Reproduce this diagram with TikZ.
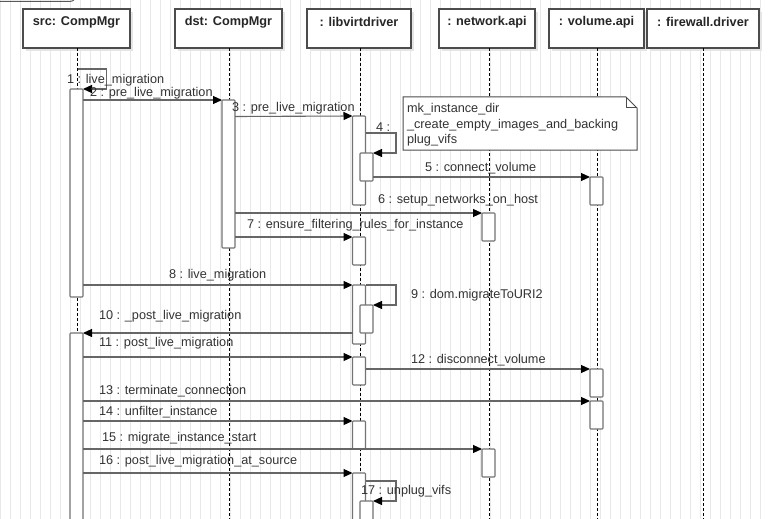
\documentclass[tikz,border=0pt]{standalone}
\usepackage{fontspec}
\setmainfont{Liberation Sans}
\usetikzlibrary{arrows.meta}
\begin{document}
\begin{tikzpicture}[x=1pt,y=-1pt,
  every node/.style={inner sep=0pt,outer sep=0pt},
  headbox/.style={draw=black!70,line width=1.1pt,fill=white,minimum height=39pt},
  headtxt/.style={font=\fontsize{12.7}{14}\selectfont\bfseries,text=black!85},
  lbl/.style={font=\fontsize{12.7}{14}\selectfont,text=black!80,anchor=west},
  lifeline/.style={draw=black,line width=0.8pt,dash pattern=on 3pt off 2pt},
  act/.style={draw=black!55,line width=1.1pt,fill=white,minimum width=13pt,rounded corners=0.8pt},
  msg/.style={draw=black!60,line width=1.1pt,-{Triangle[length=9pt,width=8pt,color=black]}},
  selfm/.style={draw=black!60,line width=1.1pt,-{Triangle[length=9pt,width=8pt,color=black]}},
]
\useasboundingbox (0,0) rectangle (769,519);
% grid
\draw[black!9,line width=0.4pt,step=10] (0,0) grid (769,519);
% partial frame top-left
\draw[black!65,line width=1pt] (0,1.5) -- (70,1.5) arc[start angle=90,end angle=30,radius=6];
% shadows
\foreach \cx/\w in {76.5/107,228.5/107,359/104,487/96,596.5/95,703/112}
  \fill[black!10] (\cx-\w/2+3,12) rectangle (\cx+\w/2+3,51);
% heads
\node[headbox,minimum width=107pt] (hsrc) at (76.5,28.5) {};
\node[headbox,minimum width=107pt] (hdst) at (228.5,28.5) {};
\node[headbox,minimum width=104pt] (hlib) at (359,28.5) {};
\node[headbox,minimum width=96pt] (hnet) at (487,28.5) {};
\node[headbox,minimum width=95pt] (hvol) at (596.5,28.5) {};
\node[headbox,minimum width=112pt] (hfw) at (703,28.5) {};
\node[headtxt] (tsrc) at (76.5,22) {src: CompMgr};
\node[headtxt] (tdst) at (228.5,22) {dst: CompMgr};
\node[headtxt] (tlib) at (359,22) {: libvirtdriver};
\node[headtxt] (tnet) at (487,22) {: network.api};
\node[headtxt] (tvol) at (596.5,22) {: volume.api};
\node[headtxt] (tfw) at (703,22) {: firewall.driver};
% lifelines
\coordinate (esrc) at (77.5,519);
\coordinate (edst) at (229,519);
\coordinate (elib) at (360.5,519);
\coordinate (enet) at (489,519);
\coordinate (evol) at (597,519);
\coordinate (efw) at (703.5,519);
\draw[lifeline] (hsrc.south -| esrc) -- (esrc);
\draw[lifeline] (hdst.south -| edst) -- (edst);
\draw[lifeline] (hlib.south -| elib) -- (elib);
\draw[lifeline] (hnet.south -| enet) -- (enet);
\draw[lifeline] (hvol.south -| evol) -- (evol);
\draw[lifeline] (hfw.south -| efw) -- (efw);
% activation bars
\node[act,minimum height=208pt] (A1) at (76.5,193) {};
\node[act,minimum height=200pt] (A2) at (76.5,433) {};
\node[act,minimum height=148pt] (D1) at (228.5,174) {};
\node[act,minimum height=89pt] (L1) at (359,160.5) {};
\node[act,minimum height=28pt] (L1n) at (366.5,167) {};
\node[act,minimum height=28pt] (N1) at (488.5,227) {};
\node[act,minimum height=28pt] (V1) at (596.5,191) {};
\node[act,minimum height=28pt] (L2) at (359,251) {};
\node[act,minimum height=59pt] (L3) at (359,314.5) {};
\node[act,minimum height=28pt] (L3n) at (366.5,319) {};
\node[act,minimum height=28pt] (L4) at (359,371) {};
\node[act,minimum height=28pt] (V2) at (596.5,383) {};
\node[act,minimum height=28pt] (V3) at (596.5,415) {};
\node[act,minimum height=28pt] (L5) at (359,435) {};
\node[act,minimum height=28pt] (N2) at (488.5,463) {};
\node[act,minimum height=70pt] (L6) at (359,508) {};
\node[act,minimum height=40pt] (L6n) at (366.5,521) {};
% note
\draw[black!70,line width=1pt,fill=white] (403,97) -- (626,97) -- (637,108) -- (637,150) -- (403,150) -- cycle;
\draw[black!70,line width=1pt] (626,97) -- (626,108) -- (637,108);
\node[lbl] (n1) at (407,109) {mk\_instance\_dir};
\node[lbl] (n2) at (407,125) {\_create\_empty\_images\_and\_backing};
\node[lbl] (n3) at (407,140.5) {plug\_vifs};
% messages
\draw[selfm] (77.5,69) -- (106.5,69) -- (106.5,89) -- (A1.north east);
\node[lbl] (m1) at (67,80) {1 : live\_migration};
\draw[msg] (A1.east |- 0,100) -- (D1.north west);
\node[lbl] (m2) at (90,93) {2 : pre\_live\_migration};
\draw[msg] (D1.east |- 0,116.5) -- (L1.north west);
\node[lbl] (m3) at (232,108) {3 : pre\_live\_migration};
\draw[selfm] (L1.east |- 0,133) -- (396,133) -- (396,153) -- (L1n.north east);
\node[lbl] (m4) at (376,127) {4 :};
\draw[msg] (L1n.east |- 0,177) -- (V1.north west);
\node[lbl] (m5) at (425,168) {5 : connect\_volume};
\draw[msg] (D1.east |- 0,213) -- (N1.north west);
\node[lbl] (m6) at (378,200.5) {6 : setup\_networks\_on\_host};
\draw[msg] (D1.east |- 0,237) -- (L2.north west);
\node[lbl] (m7) at (247,225) {7 : ensure\_filtering\_rules\_for\_instance};
\draw[msg] (A1.east |- 0,285) -- (L3.north west);
\node[lbl] (m8) at (169,275.5) {8 : live\_migration};
\draw[selfm] (L3.north east) -- (396,285) -- (396,305) -- (L3n.north east);
\node[lbl] (m9) at (411,295) {9 : dom.migrateToURI2};
\draw[msg] (L3.west |- 0,333) -- (A2.north east);
\node[lbl] (m10) at (99,316.5) {10 : \_post\_live\_migration};
\draw[msg] (A2.east |- 0,357) -- (L4.north west);
\node[lbl] (m11) at (99,343.3) {11 : post\_live\_migration};
\draw[msg] (L4.east |- 0,369) -- (V2.north west);
\node[lbl] (m12) at (411,360) {12 : disconnect\_volume};
\draw[msg] (A2.east |- 0,401) -- (V3.north west);
\node[lbl] (m13) at (99,391) {13 : terminate\_connection};
\draw[msg] (A2.east |- 0,421) -- (L5.north west);
\node[lbl] (m14) at (99,411.7) {14 : unfilter\_instance};
\draw[msg] (A2.east |- 0,449) -- (N2.north west);
\node[lbl] (m15) at (102,438.3) {15 : migrate\_instance\_start};
\draw[msg] (A2.east |- 0,473) -- (L6.north west);
\node[lbl] (m16) at (99,461.7) {16 : post\_live\_migration\_at\_source};
\draw[selfm] (L6.north east |- 0,481) -- (396,481) -- (396,501) -- (L6n.north east);
\node[lbl] (m17) at (361,491) {17 : unplug\_vifs};
\end{tikzpicture}
\end{document}
